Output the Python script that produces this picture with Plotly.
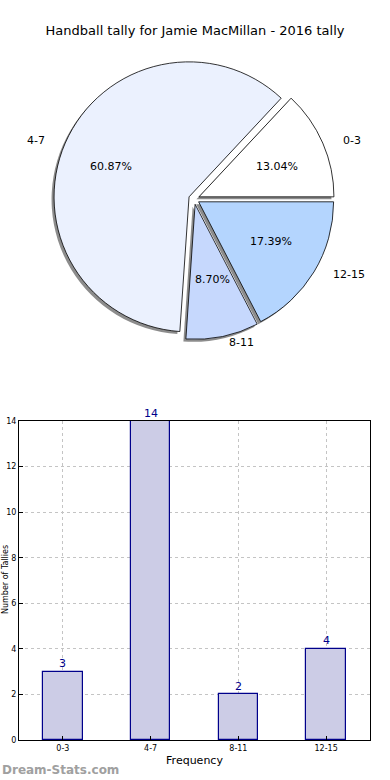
import plotly.graph_objects as go
import math

# ---- data ----
categories = ["0-3", "4-7", "8-11", "12-15"]
counts = [3, 14, 2, 4]
pie_colors = ["#ffffff", "#ebf1fe", "#c6d8fd", "#b4d5fe"]
title_text = "Handball tally for Jamie MacMillan - 2016 tally"
x_title = "Frequency"
y_title = "Number of Tallies"
y_ticks = [0, 2, 4, 6, 8, 10, 12, 14]

W, H = 390, 780
FONT = "DejaVu Sans"

# pie geometry (pixels)
CX, CY = 194, 199
R = 135
PULL = 0.04
RX, RY = 141, 128  # label ellipse (reference is slightly stretched)


def px(x):
    return x / W


def py(y):
    return 1 - y / H


total = sum(counts)
# plotly places the first slice clockwise of `rotation` when counterclockwise;
# shift so that the first slice starts at 3 o'clock like the reference
rot = 90 - 360 * counts[0] / total

half = R * (1 + PULL)
fig = go.Figure()

# shadow pie
sd = 2.5
fig.add_trace(go.Pie(
    labels=categories, values=counts, sort=False, direction="counterclockwise",
    rotation=rot, pull=[PULL] * 4, textinfo="none", hoverinfo="skip",
    marker=dict(colors=["rgba(0,0,0,0.45)"] * 4, line=dict(width=0)),
    domain=dict(x=[px(CX - sd - half), px(CX - sd + half)],
                y=[py(CY + sd + half), py(CY + sd - half)]),
    showlegend=False,
))
# main pie
fig.add_trace(go.Pie(
    labels=categories, values=counts, sort=False, direction="counterclockwise",
    rotation=rot, pull=[PULL] * 4, textinfo="none",
    marker=dict(colors=pie_colors, line=dict(color="#000000", width=0.8)),
    domain=dict(x=[px(CX - half), px(CX + half)],
                y=[py(CY + half), py(CY - half)]),
    showlegend=False,
))

annotations = []
start = 0.0
for cat, v in zip(categories, counts):
    frac = v / total
    mid = (start + frac / 2) * 2 * math.pi
    start += frac
    c, s = math.cos(mid), math.sin(mid)
    ox, oy = PULL * R * c, -PULL * R * s
    annotations.append(dict(
        x=px(CX + ox + 1.1 * RX * c), y=py(CY + oy - 1.1 * RY * s),
        xref="paper", yref="paper", text=cat, showarrow=False,
        font=dict(family=FONT, size=11, color="#000000"),
        xanchor="left" if c > 0 else "right", yanchor="middle"))
    annotations.append(dict(
        x=px(CX + ox + 0.6 * RX * c), y=py(CY + oy - 0.6 * RY * s),
        xref="paper", yref="paper", text=f"{frac * 100:.2f}%", showarrow=False,
        font=dict(family=FONT, size=11, color="#000000"),
        xanchor="center", yanchor="middle"))

# bar chart
fig.add_trace(go.Bar(
    x=categories, y=counts, width=0.45,
    marker=dict(color="#ccccE6", line=dict(color="#00008B", width=1.2)),
    xaxis="x", yaxis="y", showlegend=False, hoverinfo="x+y",
))
for cat, v in zip(categories, counts):
    annotations.append(dict(
        x=cat, y=v, xref="x", yref="y", text=str(v), showarrow=False,
        yshift=8, font=dict(family=FONT, size=11, color="#00008B"),
        xanchor="center", yanchor="middle"))

annotations.append(dict(
    x=px(5), y=py(580), xref="paper", yref="paper", text=y_title,
    textangle=-90, showarrow=False, xanchor="center", yanchor="middle",
    font=dict(family=FONT, size=8, color="#000000")))
annotations.append(dict(
    x=px(0), y=py(770), xref="paper", yref="paper", text="<b>Dream-Stats.com</b>",
    showarrow=False, xanchor="left", yanchor="middle",
    font=dict(family=FONT, size=12, color="#a0a0a0")))

grid = dict(showgrid=True, gridcolor="#c4c4c4", griddash="dot", gridwidth=1)
fig.update_layout(
    width=W, height=H, autosize=False,
    margin=dict(l=0, r=0, t=0, b=0, pad=0, autoexpand=False),
    paper_bgcolor="#ffffff", plot_bgcolor="#ffffff",
    showlegend=False,
    font=dict(family=FONT, color="#000000"),
    title=dict(text=title_text, x=0.5, xanchor="center", y=py(30),
               yanchor="middle", automargin=False,
               font=dict(family=FONT, size=13, color="#000000")),
    xaxis=dict(domain=[px(19), px(370)], anchor="y", range=[-0.5, 3.5],
               type="category", categoryorder="array", categoryarray=categories,
               showline=True, linecolor="#000000", linewidth=1, mirror=True,
               ticks="inside", ticklen=4, tickcolor="#000000",
               tickfont=dict(family=FONT, size=8), automargin=False,
               title=dict(text=x_title, font=dict(family=FONT, size=11), standoff=4),
               zeroline=False, **grid),
    yaxis=dict(domain=[py(740), py(421)], anchor="x", range=[0, 14],
               tickvals=y_ticks, showline=True, linecolor="#000000", linewidth=1,
               mirror=True, ticks="inside", ticklen=4, tickcolor="#000000",
               tickfont=dict(family=FONT, size=8), zeroline=False, automargin=False,
               **grid),
    annotations=annotations,
    bargap=0,
)

fig.write_html("out.html", config={"displayModeBar": False},
               post_script="document.body.style.margin='0';")
